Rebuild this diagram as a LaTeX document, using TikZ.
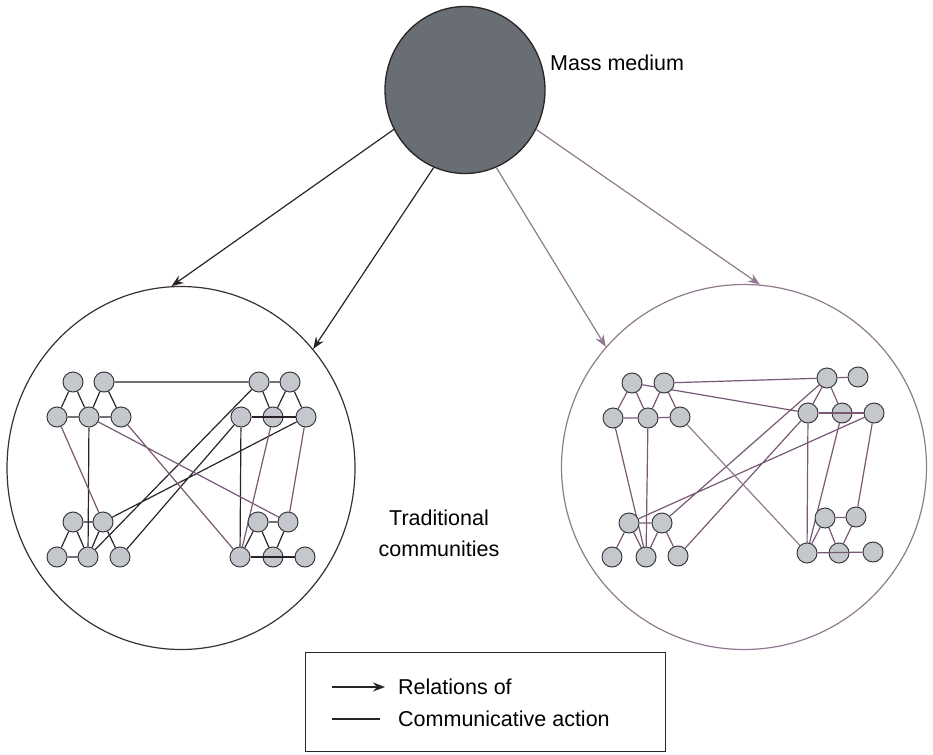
\documentclass[tikz,border=0pt]{standalone}
\usepackage{fontspec}
\setmainfont{Liberation Sans}
\usepackage{tikz}
\usetikzlibrary{positioning, arrows.meta, shapes.geometric, backgrounds}

\definecolor{peerfill}{RGB}{196,200,204}
\definecolor{peerrim}{RGB}{60,58,64}
\definecolor{ink}{RGB}{42,36,40}
\definecolor{mauve}{RGB}{120,88,116}
\definecolor{haze}{RGB}{145,122,143}
\definecolor{medium}{RGB}{104,110,115}

\tikzset{
  peer/.style={circle, draw=peerrim, fill=peerfill, line width=1pt, minimum size=20pt, inner sep=0pt},
  tie/.style={ink, line width=1.2pt},
  tieR/.style={mauve, line width=1.2pt},
  reach/.style={-{Stealth[length=12pt,width=9pt]}, line width=1.2pt},
  tag/.style={font=\fontsize{21.5}{31}\selectfont, inner sep=0pt}
}

\begin{document}
\begin{tikzpicture}[x=1pt, y=-1pt]
    \useasboundingbox (0,0) rectangle (933,754);

    % Mass medium at the top
    \node[ellipse, draw=ink, fill=medium, line width=1.3pt, minimum width=160pt, minimum height=167pt] (mm) at (465,90) {};
    \node[tag, anchor=west] (mmtext) at (550,63) {Mass medium};

    % The two community circles
    \node[ellipse, draw=ink!80!mauve, line width=1.2pt, minimum width=348pt, minimum height=363pt] (left) at (181,468) {};
    \node[circle, draw=haze, line width=1.2pt, minimum size=365pt] (right) at (744,467) {};

    % Relations of the medium to the communities
    \draw[reach, ink] (mm.-151) -- (left.93);
    \draw[reach, ink] (mm.-112) -- (left.42);
    \draw[reach, haze] (mm.-68) -- (right.139);
    \draw[reach, haze] (mm.-29) -- (right.85);

    \node[tag, align=center] (trad) at (439,533) {Traditional\\communities};

    % Left community: four groups of people
    \node[peer] (a1) at (73,382) {};
    \node[peer] (a2) at (104,382) {};
    \node[peer] (a3) at (57,417) {};
    \node[peer] (a4) at (89,417) {};
    \node[peer] (a5) at (121,417) {};

    \node[peer] (b1) at (259,382) {};
    \node[peer] (b2) at (290,382) {};
    \node[peer] (b3) at (241,417) {};
    \node[peer] (b4) at (273,417) {};
    \node[peer] (b5) at (306,417) {};

    \node[peer] (c1) at (73,522) {};
    \node[peer] (c2) at (103,522) {};
    \node[peer] (c3) at (57,557) {};
    \node[peer] (c4) at (88,557) {};
    \node[peer] (c5) at (120,557) {};

    \node[peer] (d1) at (258,522) {};
    \node[peer] (d2) at (288,522) {};
    \node[peer] (d3) at (240,557) {};
    \node[peer] (d4) at (273,557) {};
    \node[peer] (d5) at (305,557) {};

    % Right community: four groups of people
    \node[peer] (e1) at (632,383) {};
    \node[peer] (e2) at (664,383) {};
    \node[peer] (e3) at (613,418) {};
    \node[peer] (e4) at (648,418) {};
    \node[peer] (e5) at (680,417) {};

    \node[peer] (f1) at (827,378) {};
    \node[peer] (f2) at (858,377) {};
    \node[peer] (f3) at (808,413) {};
    \node[peer] (f4) at (842,413) {};
    \node[peer] (f5) at (874,413) {};

    \node[peer] (g1) at (629,523) {};
    \node[peer] (g2) at (662,523) {};
    \node[peer] (g3) at (612,557) {};
    \node[peer] (g4) at (646,557) {};
    \node[peer] (g5) at (678,556) {};

    \node[peer] (h1) at (825,518) {};
    \node[peer] (h2) at (856,517) {};
    \node[peer] (h3) at (807,553) {};
    \node[peer] (h4) at (839,553) {};
    \node[peer] (h5) at (873,552) {};

    % Communicative action, drawn behind the people
    \begin{scope}[on background layer]
        % inside the groups, left
        \draw[tie] (a1) -- (a3) (a1) -- (a4) (a2) -- (a4) (a2) -- (a5) (a3) -- (a4) (a4) -- (a5);
        \draw[tie] (b1) -- (b2) (b1) -- (b4) (b2) -- (b4) (b2) -- (b5);
        \draw[tie] (c1) -- (c2) (c1) -- (c3) (c1) -- (c4) (c2) -- (c4) (c2) -- (c5) (c3) -- (c4);
        \draw[tie] (d1) -- (d2) (d1) -- (d3) (d1) -- (d4) (d2) -- (d4);
        % between the groups, left
        \draw[tie] (a2) -- (b1) (a4) -- (c4) (b1) -- (c4) (b3) -- (c5) (b5) -- (c2) (b3) -- (d3);
        \draw[tieR] (a3) -- (c2) (a4) -- (d2) (a5) -- (d3) (b4) -- (d3) (b5) -- (d2);

        % inside the groups, right
        \draw[tieR] (e1) -- (e3) (e1) -- (e4) (e2) -- (e4) (e2) -- (e5) (e3) -- (e4) (e4) -- (e5);
        \draw[tieR] (f1) -- (f2) (f1) -- (f3) (f1) -- (f4);
        \draw[tieR] (g1) -- (g2) (g1) -- (g3) (g1) -- (g4) (g2) -- (g4) (g2) -- (g5);
        \draw[tieR] (h1) -- (h2) (h1) -- (h3) (h1) -- (h4) (h2) -- (h4);
        % between the groups, right
        \draw[tieR] (e2) -- (f1) (e1) -- (f3) (e3) -- (g4) (e4) -- (g4);
        \draw[tieR] (f1) -- (g2) (f3) -- (g5) (f5) -- (g1);
        \draw[tieR] (f3) -- (h3) (f4) -- (h3) (f5) -- (h2);
        \draw[tieR, haze] (e5) -- (h3);
    \end{scope}

    % lower rows that run across the middle person
    \draw[tie] (b3) -- (b5);
    \draw[tie] (d3) -- (d5);
    \draw[tieR] (f3) -- (f5);
    \draw[tieR] (h3) -- (h5);

    % Legend
    \node[draw=ink, line width=1pt, minimum width=360pt, minimum height=99pt, inner sep=0pt] (key) at (485,702) {};
    \coordinate (k1a) at (332,687);
    \coordinate (k1b) at (385,687);
    \coordinate (k2a) at (332,719);
    \coordinate (k2b) at (380,719);
    \draw[reach, ink] (k1a) -- (k1b);
    \draw[ink, line width=1.2pt] (k2a) -- (k2b);
    \node[tag, anchor=west] (k1text) at (398,687) {Relations of};
    \node[tag, anchor=west] (k2text) at (398,719) {Communicative action};

\end{tikzpicture}
\end{document}
